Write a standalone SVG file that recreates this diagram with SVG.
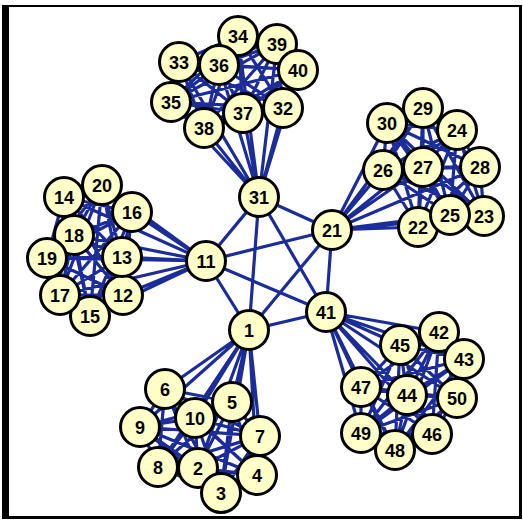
<svg xmlns="http://www.w3.org/2000/svg" width="523" height="521" viewBox="0 0 523 521">
<style>
.e{fill:none;stroke:#1c2c98;stroke-width:3.2;stroke-linecap:round}
.n circle{fill:#ffffc8;stroke:#000;stroke-width:3}
.n text{font-family:"Liberation Sans",Arial,sans-serif;font-weight:bold;font-size:18px;fill:#000;text-anchor:middle}
</style>
<rect x="0" y="0" width="523" height="521" fill="#fff"/>
<g id="frame" fill="#000">
<rect x="2" y="5" width="7" height="514"/>
<rect x="2" y="5" width="520" height="2"/>
<rect x="519" y="5" width="3" height="514"/>
<rect x="2" y="516" width="520" height="3"/>
</g>
<g id="connectors">
<path class="e" d="M259 197L238 36M259 197L277 44M259 197L179 62M259 197L219 65M259 197L298 70M259 197L171 102M259 197L243 113M259 197L283 108M259 197L204 128M238 36L277 44M238 36L179 62M238 36L219 65M238 36L298 70M238 36L171 102M238 36L243 113M238 36L283 108M238 36L204 128M277 44L179 62M277 44L219 65M277 44L298 70M277 44L171 102M277 44L243 113M277 44L283 108M277 44L204 128M179 62L219 65M179 62L298 70M179 62L171 102M179 62L243 113M179 62L283 108M179 62L204 128M219 65L298 70M219 65L171 102M219 65L243 113M219 65L283 108M219 65L204 128M298 70L171 102M298 70L243 113M298 70L283 108M298 70L204 128M171 102L243 113M171 102L283 108M171 102L204 128M243 113L283 108M243 113L204 128M283 108L204 128"/>
<path class="e" d="M332 230L423 108M332 230L387 123M332 230L457 130M332 230L383 170M332 230L423 167M332 230L480 167M332 230L450 215M332 230L484 216M332 230L418 227M423 108L387 123M423 108L457 130M423 108L383 170M423 108L423 167M423 108L480 167M423 108L450 215M423 108L484 216M423 108L418 227M387 123L457 130M387 123L383 170M387 123L423 167M387 123L480 167M387 123L450 215M387 123L484 216M387 123L418 227M457 130L383 170M457 130L423 167M457 130L480 167M457 130L450 215M457 130L484 216M457 130L418 227M383 170L423 167M383 170L480 167M383 170L450 215M383 170L484 216M383 170L418 227M423 167L480 167M423 167L450 215M423 167L484 216M423 167L418 227M480 167L450 215M480 167L484 216M480 167L418 227M450 215L484 216M450 215L418 227M484 216L418 227"/>
<path class="e" d="M206 261L102 185M206 261L64 197M206 261L132 212M206 261L74 235M206 261L122 257M206 261L47 258M206 261L60 295M206 261L123 295M206 261L90 316M102 185L64 197M102 185L132 212M102 185L74 235M102 185L122 257M102 185L47 258M102 185L60 295M102 185L123 295M102 185L90 316M64 197L132 212M64 197L74 235M64 197L122 257M64 197L47 258M64 197L60 295M64 197L123 295M64 197L90 316M132 212L74 235M132 212L122 257M132 212L47 258M132 212L60 295M132 212L123 295M132 212L90 316M74 235L122 257M74 235L47 258M74 235L60 295M74 235L123 295M74 235L90 316M122 257L47 258M122 257L60 295M122 257L123 295M122 257L90 316M47 258L60 295M47 258L123 295M47 258L90 316M60 295L123 295M60 295L90 316M123 295L90 316"/>
<path class="e" d="M326 312L439 332M326 312L400 345M326 312L464 359M326 312L361 387M326 312L407 395M326 312L457 398M326 312L361 433M326 312L432 434M326 312L395 450M439 332L400 345M439 332L464 359M439 332L361 387M439 332L407 395M439 332L457 398M439 332L361 433M439 332L432 434M439 332L395 450M400 345L464 359M400 345L361 387M400 345L407 395M400 345L457 398M400 345L361 433M400 345L432 434M400 345L395 450M464 359L361 387M464 359L407 395M464 359L457 398M464 359L361 433M464 359L432 434M464 359L395 450M361 387L407 395M361 387L457 398M361 387L361 433M361 387L432 434M361 387L395 450M407 395L457 398M407 395L361 433M407 395L432 434M407 395L395 450M457 398L361 433M457 398L432 434M457 398L395 450M361 433L432 434M361 433L395 450M432 434L395 450"/>
<path class="e" d="M249 330L165 389M249 330L232 402M249 330L195 418M249 330L140 427M249 330L260 436M249 330L158 467M249 330L198 468M249 330L257 475M249 330L221 493M165 389L232 402M165 389L195 418M165 389L140 427M165 389L260 436M165 389L158 467M165 389L198 468M165 389L257 475M165 389L221 493M232 402L195 418M232 402L140 427M232 402L260 436M232 402L158 467M232 402L198 468M232 402L257 475M232 402L221 493M195 418L140 427M195 418L260 436M195 418L158 467M195 418L198 468M195 418L257 475M195 418L221 493M140 427L260 436M140 427L158 467M140 427L198 468M140 427L257 475M140 427L221 493M260 436L158 467M260 436L198 468M260 436L257 475M260 436L221 493M158 467L198 468M158 467L257 475M158 467L221 493M198 468L257 475M198 468L221 493M257 475L221 493"/>
<path class="e" d="M259 197L332 230M259 197L206 261M259 197L249 330M259 197L326 312M332 230L206 261M332 230L249 330M332 230L326 312M206 261L249 330M206 261L326 312M249 330L326 312"/>
</g>
<g id="nodes">
<g id="n1" class="n"><circle cx="249" cy="330" r="19.5"/><text x="249" y="336.5">1</text></g>
<g id="n2" class="n"><circle cx="198" cy="468" r="19.5"/><text x="198" y="474.5">2</text></g>
<g id="n3" class="n"><circle cx="221" cy="493" r="19.5"/><text x="221" y="499.5">3</text></g>
<g id="n4" class="n"><circle cx="257" cy="475" r="19.5"/><text x="257" y="481.5">4</text></g>
<g id="n5" class="n"><circle cx="232" cy="402" r="19.5"/><text x="232" y="408.5">5</text></g>
<g id="n6" class="n"><circle cx="165" cy="389" r="19.5"/><text x="165" y="395.5">6</text></g>
<g id="n7" class="n"><circle cx="260" cy="436" r="19.5"/><text x="260" y="442.5">7</text></g>
<g id="n8" class="n"><circle cx="158" cy="467" r="19.5"/><text x="158" y="473.5">8</text></g>
<g id="n9" class="n"><circle cx="140" cy="427" r="19.5"/><text x="140" y="433.5">9</text></g>
<g id="n10" class="n"><circle cx="195" cy="418" r="19.5"/><text x="195" y="424.5">10</text></g>
<g id="n11" class="n"><circle cx="206" cy="261" r="19.5"/><text x="206" y="267.5">11</text></g>
<g id="n12" class="n"><circle cx="123" cy="295" r="19.5"/><text x="123" y="301.5">12</text></g>
<g id="n13" class="n"><circle cx="122" cy="257" r="19.5"/><text x="122" y="263.5">13</text></g>
<g id="n14" class="n"><circle cx="64" cy="197" r="19.5"/><text x="64" y="203.5">14</text></g>
<g id="n15" class="n"><circle cx="90" cy="316" r="19.5"/><text x="90" y="322.5">15</text></g>
<g id="n16" class="n"><circle cx="132" cy="212" r="19.5"/><text x="132" y="218.5">16</text></g>
<g id="n17" class="n"><circle cx="60" cy="295" r="19.5"/><text x="60" y="301.5">17</text></g>
<g id="n18" class="n"><circle cx="74" cy="235" r="19.5"/><text x="74" y="241.5">18</text></g>
<g id="n19" class="n"><circle cx="47" cy="258" r="19.5"/><text x="47" y="264.5">19</text></g>
<g id="n20" class="n"><circle cx="102" cy="185" r="19.5"/><text x="102" y="191.5">20</text></g>
<g id="n21" class="n"><circle cx="332" cy="230" r="19.5"/><text x="332" y="236.5">21</text></g>
<g id="n22" class="n"><circle cx="418" cy="227" r="19.5"/><text x="418" y="233.5">22</text></g>
<g id="n23" class="n"><circle cx="484" cy="216" r="19.5"/><text x="484" y="222.5">23</text></g>
<g id="n24" class="n"><circle cx="457" cy="130" r="19.5"/><text x="457" y="136.5">24</text></g>
<g id="n25" class="n"><circle cx="450" cy="215" r="19.5"/><text x="450" y="221.5">25</text></g>
<g id="n26" class="n"><circle cx="383" cy="170" r="19.5"/><text x="383" y="176.5">26</text></g>
<g id="n27" class="n"><circle cx="423" cy="167" r="19.5"/><text x="423" y="173.5">27</text></g>
<g id="n28" class="n"><circle cx="480" cy="167" r="19.5"/><text x="480" y="173.5">28</text></g>
<g id="n29" class="n"><circle cx="423" cy="108" r="19.5"/><text x="423" y="114.5">29</text></g>
<g id="n30" class="n"><circle cx="387" cy="123" r="19.5"/><text x="387" y="129.5">30</text></g>
<g id="n31" class="n"><circle cx="259" cy="197" r="19.5"/><text x="259" y="203.5">31</text></g>
<g id="n32" class="n"><circle cx="283" cy="108" r="19.5"/><text x="283" y="114.5">32</text></g>
<g id="n33" class="n"><circle cx="179" cy="62" r="19.5"/><text x="179" y="68.5">33</text></g>
<g id="n34" class="n"><circle cx="238" cy="36" r="19.5"/><text x="238" y="42.5">34</text></g>
<g id="n35" class="n"><circle cx="171" cy="102" r="19.5"/><text x="171" y="108.5">35</text></g>
<g id="n36" class="n"><circle cx="219" cy="65" r="19.5"/><text x="219" y="71.5">36</text></g>
<g id="n37" class="n"><circle cx="243" cy="113" r="19.5"/><text x="243" y="119.5">37</text></g>
<g id="n38" class="n"><circle cx="204" cy="128" r="19.5"/><text x="204" y="134.5">38</text></g>
<g id="n39" class="n"><circle cx="277" cy="44" r="19.5"/><text x="277" y="50.5">39</text></g>
<g id="n40" class="n"><circle cx="298" cy="70" r="19.5"/><text x="298" y="76.5">40</text></g>
<g id="n41" class="n"><circle cx="326" cy="312" r="19.5"/><text x="326" y="318.5">41</text></g>
<g id="n42" class="n"><circle cx="439" cy="332" r="19.5"/><text x="439" y="338.5">42</text></g>
<g id="n43" class="n"><circle cx="464" cy="359" r="19.5"/><text x="464" y="365.5">43</text></g>
<g id="n44" class="n"><circle cx="407" cy="395" r="19.5"/><text x="407" y="401.5">44</text></g>
<g id="n45" class="n"><circle cx="400" cy="345" r="19.5"/><text x="400" y="351.5">45</text></g>
<g id="n46" class="n"><circle cx="432" cy="434" r="19.5"/><text x="432" y="440.5">46</text></g>
<g id="n47" class="n"><circle cx="361" cy="387" r="19.5"/><text x="361" y="393.5">47</text></g>
<g id="n48" class="n"><circle cx="395" cy="450" r="19.5"/><text x="395" y="456.5">48</text></g>
<g id="n49" class="n"><circle cx="361" cy="433" r="19.5"/><text x="361" y="439.5">49</text></g>
<g id="n50" class="n"><circle cx="457" cy="398" r="19.5"/><text x="457" y="404.5">50</text></g>
</g>
</svg>
